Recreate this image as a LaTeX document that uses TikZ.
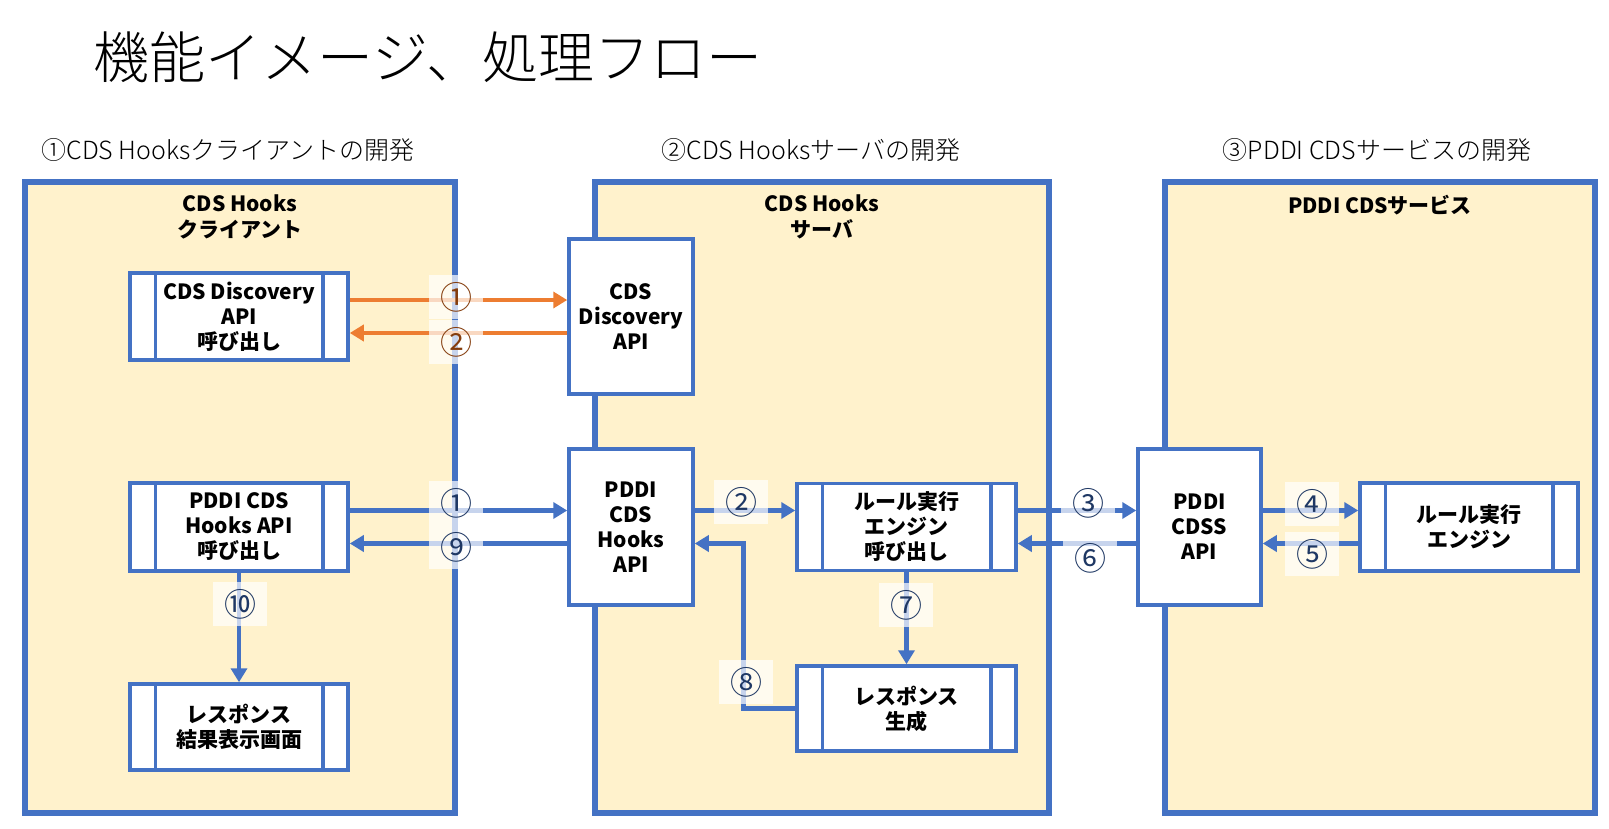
\documentclass[tikz,border=0pt]{standalone}
\usepackage{fontspec}
\setmainfont{Noto Sans CJK JP}
\newfontfamily\lightfont{Noto Sans CJK JP Light}
\usetikzlibrary{arrows.meta}
\definecolor{boxblue}{HTML}{4472C4}
\definecolor{panelfill}{HTML}{FFF2CC}
\definecolor{arroworange}{HTML}{ED7D31}
\definecolor{numblue}{HTML}{1F3864}
\definecolor{numbrown}{HTML}{843C0C}

\begin{document}
\begin{tikzpicture}[x=1pt,y=-1pt]
	\tikzstyle{panel node} = [draw=boxblue, line width=5.5pt, fill=panelfill, inner sep=0]
	\tikzstyle{head node} = [font=\fontsize{21}{26}\selectfont\bfseries, align=center]
	\tikzstyle{dev node} = [font=\lightfont\fontsize{25}{25}\selectfont]
	\tikzstyle{box node} = [draw=boxblue, line width=3.5pt, fill=white, inner sep=0, align=center, font=\fontsize{21}{25}\selectfont\bfseries]
	\tikzstyle{num node} = [fill=white, fill opacity=0.7, text opacity=1, minimum width=54pt, minimum height=44pt, inner sep=0, font=\fontsize{32}{32}\selectfont, text=numblue]
	\tikzstyle{blue arrow} = [draw=boxblue, line width=4.5pt, -{Triangle[length=14pt,width=16pt]}]
	\tikzstyle{orange arrow} = [draw=arroworange, line width=4.5pt, -{Triangle[length=14pt,width=16pt]}]
	\useasboundingbox (0,0) rectangle (1609,829);
	\fill[white] (0,0) rectangle (1609,829);
	% title and headings
	\node[font=\lightfont\fontsize{56}{56}\selectfont] (title) at (428,57) {機能イメージ、処理フロー};
	\node[dev node] (clientdev) at (228,150) {①CDS Hooksクライアントの開発};
	\node[dev node] (serverdev) at (811,150) {②CDS Hooksサーバの開発};
	\node[dev node] (servicedev) at (1377,150) {③PDDI CDSサービスの開発};
	% panels
	\node[panel node, minimum width=430pt, minimum height=631pt] (client) at (240,497.5) {};
	\node[panel node, minimum width=454pt, minimum height=631pt] (server) at (822,497.5) {};
	\node[panel node, minimum width=430pt, minimum height=631pt] (service) at (1380,497.5) {};
	\node[head node] (clienthead) at (240,217) {CDS Hooks\\クライアント};
	\node[head node] (serverhead) at (822,217) {CDS Hooks\\サーバ};
	\node[head node] (servicehead) at (1380,205) {PDDI CDSサービス};
	% boxes
	\node[box node, minimum width=218pt, minimum height=87pt] (dcall) at (239,316.5) {CDS Discovery\\API\\呼び出し};
	\node[box node, minimum width=218pt, minimum height=88pt] (hcall) at (239,527) {PDDI CDS\\Hooks API\\呼び出し};
	\node[box node, minimum width=218pt, minimum height=86pt] (resv) at (239,727) {レスポンス\\結果表示画面};
	\node[box node, minimum width=124pt, minimum height=155pt] (dapi) at (631,316.5) {CDS\\Discovery\\API};
	\node[box node, minimum width=124pt, minimum height=156pt] (hapi) at (631,527) {PDDI\\CDS\\Hooks\\API};
	\node[box node, minimum width=219pt, minimum height=87pt] (reng) at (906.5,527) {ルール実行\\エンジン\\呼び出し};
	\node[box node, minimum width=219pt, minimum height=85pt] (resp) at (906.5,708.5) {レスポンス\\生成};
	\node[box node, minimum width=123pt, minimum height=156pt] (cdss) at (1199.5,527) {PDDI\\CDSS\\API};
	\node[box node, minimum width=218pt, minimum height=88pt] (reng2) at (1469,527) {ルール実行\\エンジン};
	\foreach \n in {dcall,hcall,resv,reng,resp,reng2}{
		\draw[boxblue, line width=3.5pt] ([xshift=27pt]\n.north west) -- ([xshift=27pt]\n.south west);
		\draw[boxblue, line width=3.5pt] ([xshift=-27pt]\n.north east) -- ([xshift=-27pt]\n.south east);
	}
	% connectors
	\draw[orange arrow] ([yshift=16.5pt]dcall.east) -- ([yshift=16.5pt]dapi.west);
	\draw[orange arrow] ([yshift=-16.5pt]dapi.west) -- ([yshift=-16.5pt]dcall.east);
	\draw[blue arrow] ([yshift=16.5pt]hcall.east) -- ([yshift=16.5pt]hapi.west);
	\draw[blue arrow] ([yshift=-16.5pt]hapi.west) -- ([yshift=-16.5pt]hcall.east);
	\draw[blue arrow] (hcall.south) -- (resv.north);
	\draw[blue arrow] ([yshift=16.5pt]hapi.east) -- ([yshift=16.5pt]reng.west);
	\draw[blue arrow] ([yshift=16.5pt]reng.east) -- ([yshift=16.5pt]cdss.west);
	\draw[blue arrow] ([yshift=16.5pt]cdss.east) -- ([yshift=16.5pt]reng2.west);
	\draw[blue arrow] ([yshift=-16.5pt]reng2.west) -- ([yshift=-16.5pt]cdss.east);
	\draw[blue arrow] ([yshift=-16.5pt]cdss.west) -- ([yshift=-16.5pt]reng.east);
	\draw[blue arrow] (reng.south) -- (resp.north);
	\draw[blue arrow] (resp.west) -- ++(-52,0) |- ([yshift=-16.5pt]hapi.east);
	% step numbers
	\node[num node, text=numbrown] (o1) at (456,297) {①};
	\node[num node, text=numbrown] (o2) at (456,342) {②};
	\node[num node] (n1) at (456,503) {①};
	\node[num node] (n9) at (456,547) {⑨};
	\node[num node] (n10) at (240,604) {⑩};
	\node[num node] (n2) at (741,502) {②};
	\node[num node] (n7) at (906,605) {⑦};
	\node[num node] (n8) at (746,682) {⑧};
	\node[num node] (n3) at (1088,503) {③};
	\node[num node] (n6) at (1090,558) {⑥};
	\node[num node] (n4) at (1312,504) {④};
	\node[num node] (n5) at (1312,554) {⑤};
\end{tikzpicture}
\end{document}
